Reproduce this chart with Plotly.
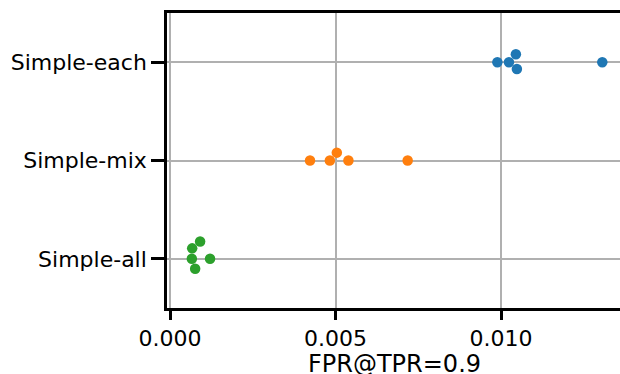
import numpy as np
import plotly.graph_objects as go

categories = ["Simple-each", "Simple-mix", "Simple-all"]
colors = ["#1f77b4", "#ff7f0e", "#2ca02c"]
simple_each = [0.00989, 0.01024, 0.01045, 0.01048, 0.01306]
simple_mix = [0.00423, 0.00483, 0.00504, 0.00539, 0.00718]
simple_all = [0.00066, 0.00067, 0.00076, 0.00091, 0.00121]
series = [simple_each, simple_mix, simple_all]
xticks = [0.0, 0.005, 0.010]
x_label = "FPR@TPR=0.9"

W, H = 620, 374
ML, MR, MT, MB = 167, 0, 13, 66
PW, PH = W - ML - MR, H - MT - MB
XMIN = -0.0000906
XMAX = XMIN + PW / 33100.0
YR = (2.5, -0.5)
DOT = 10.5

px_per_x = PW / (XMAX - XMIN)
px_per_y = PH / 3.0


def swarm(vals, d=DOT):
    """Simple beeswarm: returns pixel offsets (negative = up)."""
    order = np.argsort(vals, kind="stable")
    placed = []
    offs = np.zeros(len(vals))
    for i in order:
        x = vals[i] * px_per_x
        cands = [0.0]
        neigh = [(px, py) for px, py in placed if abs(px - x) < d]
        for px, py in neigh:
            dy = np.sqrt(d * d - (px - x) ** 2)
            cands += [py - dy, py + dy]
        cands = sorted(cands, key=lambda c: abs(c))
        for c in cands:
            ok = all((px - x) ** 2 + (py - c) ** 2 >= d * d - 1e-6 for px, py in neigh)
            if ok:
                offs[i] = c
                placed.append((x, c))
                break
    return offs


fig = go.Figure()
for k, (cat, vals, col) in enumerate(zip(categories, series, colors)):
    offs = swarm(np.array(vals))
    ys = k + offs / px_per_y
    fig.add_trace(go.Scatter(
        x=vals, y=ys, mode="markers", name=cat,
        marker=dict(color=col, size=DOT, line=dict(width=0)),
        showlegend=False, cliponaxis=False,
    ))

tick_font = dict(family="DejaVu Sans", size=22, color="black")
label_font = dict(family="DejaVu Sans", size=24, color="black")
fig.update_layout(
    width=W, height=H,
    margin=dict(l=ML, r=MR, t=MT, b=MB, pad=0),
    paper_bgcolor="white", plot_bgcolor="white",
    font=tick_font,
    xaxis=dict(
        range=[XMIN, XMAX], tickvals=xticks, tickformat=".3f",
        showgrid=True, gridcolor="#b0b0b0", gridwidth=2, zeroline=False,
        showline=True, linecolor="black", linewidth=2.5, mirror=True,
        ticks="outside", ticklen=9, tickwidth=2.5, tickcolor="black",
        tickfont=tick_font,
    ),
    yaxis=dict(
        range=list(YR), tickvals=[0, 1, 2], ticktext=categories,
        showgrid=True, gridcolor="#b0b0b0", gridwidth=2, zeroline=False,
        showline=True, linecolor="black", linewidth=2.5, mirror=False,
        ticks="outside", ticklen=13, tickwidth=2.5, tickcolor="black",
        tickfont=tick_font,
    ),
    annotations=[dict(
        text=x_label, xref="paper", yref="paper",
        x=(394.5 - ML) / PW, y=(MT + PH - 364) / PH,
        xanchor="center", yanchor="middle", showarrow=False,
        font=label_font,
    )],
)
fig.write_html("out.html")
